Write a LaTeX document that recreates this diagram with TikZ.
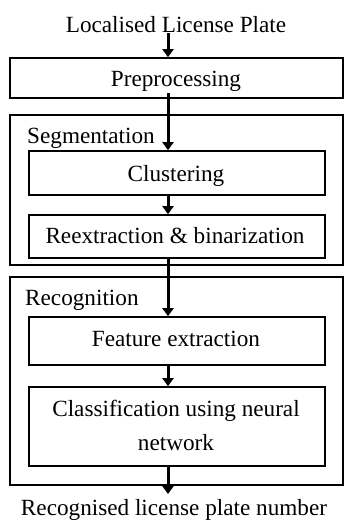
\documentclass[tikz,border=0pt]{standalone}
\usepackage{fontspec}
\setmainfont{Liberation Serif}
\usetikzlibrary{arrows.meta}
\begin{document}
\begin{tikzpicture}[x=1pt,y=-1pt,
  every node/.style={font=\fontsize{23.2}{27}\selectfont, inner sep=0pt},
  outerbox/.style={draw, line width=1.6pt, minimum width=333pt},
  innerbox/.style={draw, line width=1.6pt, minimum width=296pt, align=center},
  flow/.style={line width=3pt, -{Triangle[width=11pt,length=8pt]}}]
\useasboundingbox (0,0) rectangle (344,520);
\fill[white] (0,0) rectangle (344,520);

% input label
\node[anchor=base] (inp) at (176,32) {Localised License Plate};

% preprocessing
\node[outerbox, minimum height=40pt] (pre) at (176.5,78) {};
\node[anchor=base] (pretxt) at (176,86) {Preprocessing};

% segmentation stage
\node[outerbox, minimum height=150pt] (seg) at (176.5,190) {};
\node[anchor=base west] (seglab) at (27,143) {Segmentation};
\node[innerbox, minimum height=44pt] (clu) at (177,173) {};
\node[anchor=base] (clutxt) at (176,181) {Clustering};
\node[innerbox, minimum height=43pt] (rex) at (177,236.5) {};
\node[anchor=base] (rextxt) at (175,243) {Reextraction \& binarization};

% recognition stage
\node[outerbox, minimum height=208pt] (rec) at (176.5,381) {};
\node[anchor=base west] (reclab) at (25,305) {Recognition};
\node[innerbox, minimum height=48pt] (fea) at (177,341) {};
\node[anchor=base] (featxt) at (176,346) {Feature extraction};
\node[innerbox, minimum height=79pt] (cla) at (177,426.5) {};
\node[anchor=base, align=center] (clatxt) at (176,416) {Classification using neural};
\node[anchor=base] (clatxt2) at (176,450) {network};

% output label
\node[anchor=base] (out) at (174,515) {Recognised license plate number};

% flow arrows
\coordinate (ax) at (168,0);
\draw[flow] (ax |- 0,33) -- (pre.north -| ax);
\draw[flow] (ax |- 0,93) -- (clu.north -| ax);
\draw[flow] (clu.south -| ax) -- (rex.north -| ax);
\draw[flow] (ax |- 0,257) -- (fea.north -| ax);
\draw[flow] (fea.south -| ax) -- (cla.north -| ax);
\draw[flow] (cla.south -| ax) -- (ax |- 0,494);
\end{tikzpicture}
\end{document}
